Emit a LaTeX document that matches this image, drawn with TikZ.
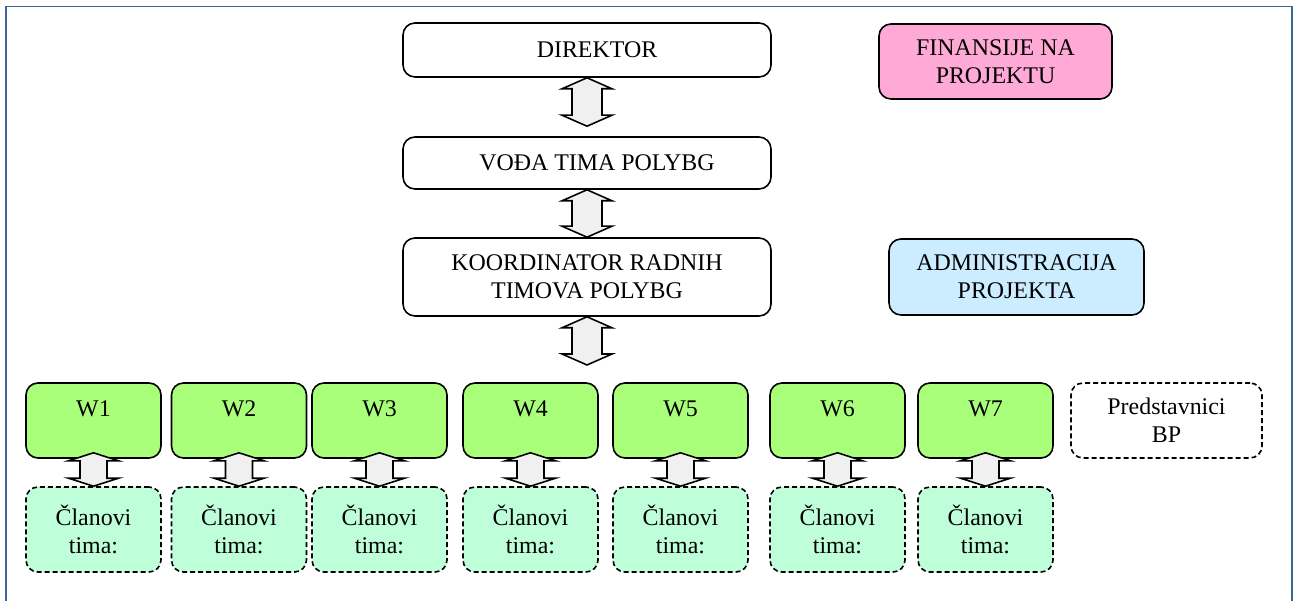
\documentclass[tikz,border=0pt]{standalone}
\usepackage{fontspec}
\setmainfont{Liberation Serif}
\usetikzlibrary{calc}
\definecolor{finpink}{RGB}{255,170,214}
\definecolor{admblue}{RGB}{204,236,255}
\definecolor{wgreen}{RGB}{170,255,122}
\definecolor{clanmint}{RGB}{190,255,218}
\definecolor{arrgray}{RGB}{240,240,240}
\definecolor{framec}{RGB}{62,100,150}
% double block arrow: from, to, half head, half shaft, head length
\newcommand{\dblarrow}[5]{\draw[arr] let \p1=(#1), \p2=(#2) in (\x1,\y1) -- (\x1+#3,\y1-#5) -- (\x1+#4,\y1-#5) -- (\x1+#4,\y2+#5) -- (\x1+#3,\y2+#5) -- (\x1,\y2) -- (\x1-#3,\y2+#5) -- (\x1-#4,\y2+#5) -- (\x1-#4,\y1-#5) -- (\x1-#3,\y1-#5) -- cycle;}
\begin{document}
\begin{tikzpicture}[font=\fontsize{13.6}{15.9}\selectfont,
	bigbox/.style={draw, line width=0.9pt, rounded corners=0.24cm, fill=white, align=center},
	wbox/.style={bigbox, fill=wgreen, minimum width=2.7cm, inner ysep=0pt, text height=0.68cm, text depth=0.82cm},
	clan/.style={bigbox, dash pattern=on 0.1cm off 0.06cm, fill=clanmint, minimum width=2.7cm, minimum height=1.7cm},
	arr/.style={draw, line width=0.9pt, fill=arrgray}]
	\useasboundingbox (0,0) rectangle (25.9,-12.02);
	\clip (0,0) rectangle (25.9,-12.02);
	\draw[framec, line width=1.1pt] (0.12,-0.13) rectangle (25.84,-12.6);
	% upper part
	\node[bigbox, minimum width=7.36cm, minimum height=1.08cm] (Dir) at (11.74,-1.0) {\hspace*{0.4cm}DIREKTOR};
	\node[bigbox, minimum width=7.36cm, minimum height=1.04cm] (Voda) at (11.74,-3.26) {\hspace*{0.4cm}VOĐA TIMA POLYBG};
	\node[bigbox, minimum width=7.36cm, minimum height=1.56cm] (Koord) at (11.74,-5.54) {KOORDINATOR RADNIH\\TIMOVA POLYBG};
	\node[bigbox, fill=finpink, minimum width=4.66cm, minimum height=1.5cm] (Fin) at (19.91,-1.23) {FINANSIJE NA\\PROJEKTU};
	\node[bigbox, fill=admblue, minimum width=5.1cm, minimum height=1.52cm] (Adm) at (20.33,-5.54) {ADMINISTRACIJA\\PROJEKTA};
	\coordinate (Wtop) at (11.74,-7.3);
	\dblarrow{Dir.south}{$(Voda.north)+(0,0.2)$}{0.5cm}{0.3cm}{0.22cm}
	\dblarrow{Voda.south}{Koord.north}{0.5cm}{0.3cm}{0.22cm}
	\dblarrow{Koord.south}{Wtop}{0.5cm}{0.3cm}{0.22cm}
	% work packages
	\node[wbox] (W1) at (1.87,-8.41) {W1};
	\node[wbox] (W2) at (4.78,-8.41) {W2};
	\node[wbox] (W3) at (7.59,-8.41) {W3};
	\node[wbox] (W4) at (10.61,-8.41) {W4};
	\node[wbox] (W5) at (13.61,-8.41) {W5};
	\node[wbox] (W6) at (16.75,-8.41) {W6};
	\node[wbox] (W7) at (19.71,-8.41) {W7};
	\node[bigbox, dash pattern=on 0.1cm off 0.06cm, minimum width=3.82cm, minimum height=1.5cm] (BP) at (23.33,-8.41) {Predstavnici\\BP};
	\node[clan] (C1) at (1.87,-10.59) {Članovi\\tima:};
	\node[clan] (C2) at (4.78,-10.59) {Članovi\\tima:};
	\node[clan] (C3) at (7.59,-10.59) {Članovi\\tima:};
	\node[clan] (C4) at (10.61,-10.59) {Članovi\\tima:};
	\node[clan] (C5) at (13.61,-10.59) {Članovi\\tima:};
	\node[clan] (C6) at (16.75,-10.59) {Članovi\\tima:};
	\node[clan] (C7) at (19.71,-10.59) {Članovi\\tima:};
	\dblarrow{$(W1.south)+(0,0.12)$}{C1.north}{0.5cm}{0.27cm}{0.16cm}
	\dblarrow{$(W2.south)+(0,0.12)$}{C2.north}{0.5cm}{0.27cm}{0.16cm}
	\dblarrow{$(W3.south)+(0,0.12)$}{C3.north}{0.5cm}{0.27cm}{0.16cm}
	\dblarrow{$(W4.south)+(0,0.12)$}{C4.north}{0.5cm}{0.27cm}{0.16cm}
	\dblarrow{$(W5.south)+(0,0.12)$}{C5.north}{0.5cm}{0.27cm}{0.16cm}
	\dblarrow{$(W6.south)+(0,0.12)$}{C6.north}{0.5cm}{0.27cm}{0.16cm}
	\dblarrow{$(W7.south)+(0,0.12)$}{C7.north}{0.5cm}{0.27cm}{0.16cm}
\end{tikzpicture}
\end{document}
